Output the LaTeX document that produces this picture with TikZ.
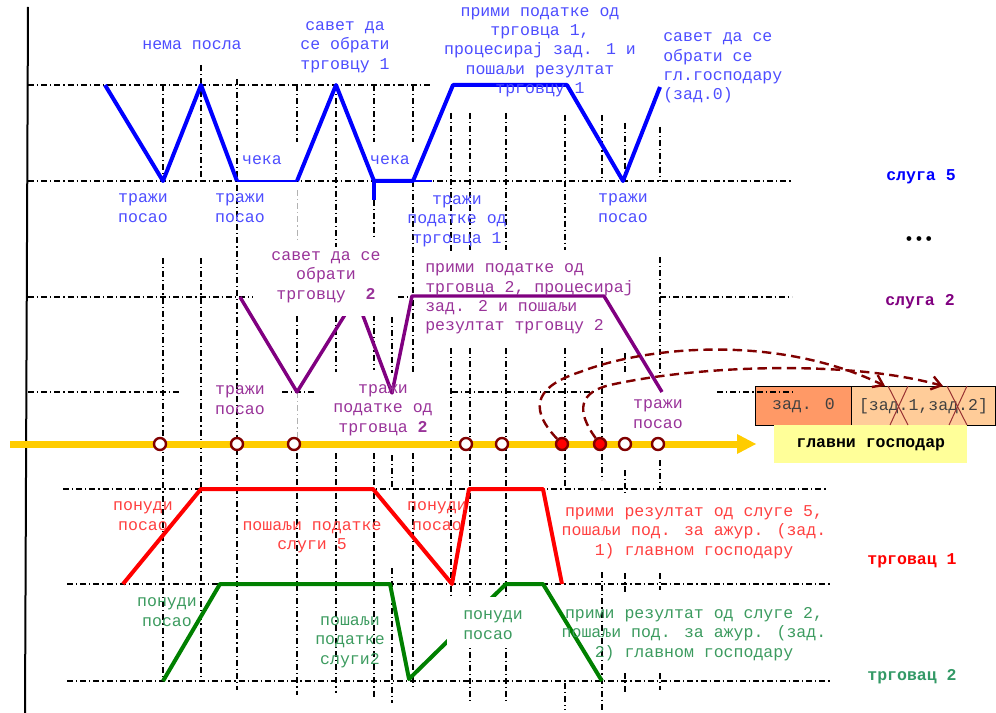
\documentclass[tikz,border=0pt]{standalone}
\usepackage{fontspec}
\newfontfamily\mono{Liberation Mono}
\newcommand\monof{\mono\fontsize{12.4}{14.5}\selectfont}
\usetikzlibrary{arrows.meta}
\definecolor{bline}{RGB}{0,0,255}
\definecolor{btxt}{RGB}{77,77,255}
\definecolor{pline}{RGB}{128,0,128}
\definecolor{ptxt}{RGB}{153,51,153}
\definecolor{rline}{RGB}{255,0,0}
\definecolor{rtxt}{RGB}{255,64,64}
\definecolor{gline}{RGB}{0,128,0}
\definecolor{gtxt}{RGB}{60,155,95}
\definecolor{glab}{RGB}{51,153,102}
\definecolor{dred}{RGB}{128,0,0}
\definecolor{gold}{RGB}{255,204,0}
\definecolor{zadzero}{RGB}{255,153,102}
\definecolor{zadrest}{RGB}{255,204,153}
\definecolor{master}{RGB}{255,255,153}
\definecolor{xred}{RGB}{153,51,51}
\definecolor{boxtxt}{RGB}{64,64,64}
\begin{document}
\begin{tikzpicture}[x=0.75pt,y=-0.75pt,
  txt/.style={font=\monof, align=center, inner sep=0pt},
  txtl/.style={font=\monof, align=left, inner sep=0pt, anchor=west},
  lab/.style={font=\monof\bfseries, inner sep=0pt},
  grid/.style={black, line width=0.9pt, dash pattern=on 4.5pt off 2.2pt on 1pt off 2.2pt},
  gridg/.style={black!30, line width=0.75pt, dash pattern=on 4.5pt off 2.2pt on 1pt off 2.2pt},
  sfive/.style={bline, line width=3pt, line join=round},
  sfivethin/.style={bline, line width=1.1pt},
  stwo/.style={pline, line width=2.6pt, line join=round},
  tone/.style={rline, line width=3pt, line join=round},
  ttwo/.style={gline, line width=3pt, line join=round},
  ev/.style={circle, draw=dred, line width=1.8pt, fill=white, minimum size=9pt, inner sep=0pt},
  evf/.style={ev, fill=red},
  flow/.style={dred, line width=1.8pt, dash pattern=on 7pt off 4pt, -{Straight Barb[length=7pt,width=10pt]}},
  cellbox/.style={draw=black, line width=0.75pt, minimum height=29.25pt, anchor=north west, inner sep=0pt, font=\monof, text=boxtxt}
]
\useasboundingbox (0,0) rectangle (996,713);

% queue boxes
\node[cellbox, fill=zadzero, minimum width=72pt] (z0) at (755,386) {зад. 0};
\node[cellbox, fill=zadrest, minimum width=108pt] (z12) at (851,386) {[зад.1,зад.2]};
\node[fill=master, minimum width=144.75pt, minimum height=28.5pt, anchor=north west, inner sep=0pt, font=\monof\bfseries] (gm) at (774,425) {главни господар};
\draw[xred, line width=0.75pt] (888,386) -- (908,425) (908,386) -- (890,425);
\draw[xred, line width=0.75pt] (947,386) -- (967,425) (967,386) -- (949,425);

% axis
\draw[line width=1.5pt] (28,7) -- (25,713);

% horizontal grid
\draw[grid] (28,85) -- (430,85);
\draw[grid] (28,181) -- (792,181);
\draw[grid] (28,297) -- (253,297) (398,297) -- (412,297) (660,297) -- (792,297);
\draw[grid] (28,392) -- (182,392) (282,392) -- (315,392) (452,392) -- (593,392) (717,392) -- (792,392);
\draw[grid] (63,489) -- (827,489);
\draw[grid] (67,584) -- (830,584);
\draw[grid] (67,681) -- (830,681);

% vertical grid
\draw[grid] (163,85) -- (163,181) (163,258) -- (163,680);
\draw[grid] (201,65) -- (201,177) (201,258) -- (201,677);
\draw[grid] (237,79) -- (237,690);
\draw[grid] (297,85) -- (297,142) (297,316) -- (297,372) (297,453) -- (297,695);
\draw[gridg] (297,190) -- (297,240) (297,392) -- (297,440);
\draw[grid] (336,85) -- (336,250) (336,316) -- (336,372) (336,453) -- (336,693);
\draw[grid] (374,85) -- (374,142) (374,187) -- (374,238) (374,315) -- (374,370) (374,453) -- (374,697);
\draw[grid] (392,317) -- (392,373) (392,455) -- (392,487) (392,568) -- (392,703);
\draw[grid] (413,85) -- (413,142) (413,181) -- (413,372) (413,453) -- (413,687);
\draw[grid] (451,113) -- (451,253) (451,348) -- (451,600);
\draw[grid] (470,113) -- (470,250) (470,348) -- (470,703);
\draw[grid] (506,113) -- (506,250) (506,348) -- (506,703);
\draw[grid] (565,115) -- (565,250) (565,348) -- (565,487) (565,683) -- (565,710);
\draw[grid] (602,115) -- (602,181) (602,348) -- (602,480) (602,572) -- (602,710);
\draw[grid] (625,123) -- (625,181) (625,353) -- (625,373) (625,470) -- (625,495) (625,573) -- (625,593) (625,673) -- (625,692);
\draw[grid] (660,127) -- (660,181) (660,257) -- (660,373) (660,460) -- (660,490) (660,573) -- (660,590) (660,673) -- (660,690);

% слуга 5
\draw[sfive] (105,85) -- (163,181) -- (201,85) -- (237,181);
\draw[sfivethin] (237,181) -- (297,181);
\draw[sfive] (297,181) -- (336,85) -- (374,181) -- (413,181) -- (453,85) -- (567,85) -- (623,181) -- (660,87);
\draw[sfive] (374,181) -- (374,200);
\draw[sfivethin] (413,181) -- (432,181);

% слуга 2
\draw[stwo] (240,297) -- (297,392) -- (356,297) -- (392,393) -- (412,296) -- (604,296) -- (662,392);

% трговац 1
\draw[tone] (123,584) -- (201,489) -- (373,489) -- (452,584) -- (469,489) -- (543,489) -- (562,584);

% трговац 2
\draw[ttwo] (163,681) -- (220,584) -- (390,584) -- (409,679) -- (506,584) -- (543,584) -- (602,681);

% white label backgrounds
\fill[white] (258,247) rectangle (398,316);
\fill[white] (447,597) rectangle (537,648);

% blue labels
\node[txt, btxt] (n1) at (192,45) {нема посла};
\node[txt, btxt] (n2) at (345,47) {савет да\\се обрати\\трговцу 1};
\node[txt, btxt] (n3) at (540,52) {прими податке од\\трговца 1,\\процесирај зад. 1 и\\пошаљи резултат\\трговцу 1};
\node[txtl, btxt] (n4) at (663,68) {савет да се\\обрати се\\гл.господару\\(зад.0)};
\node[txt, btxt] (n5) at (262,160) {чека};
\node[txt, btxt] (n6) at (390,160) {чека};
\node[txt, btxt] (n7) at (143,208) {тражи\\посао};
\node[txt, btxt] (n8) at (240,208) {тражи\\посао};
\node[txt, btxt] (n9) at (623,208) {тражи\\посао};
\node[txt, btxt] (n10) at (457,221) {тражи\\податке од\\трговца 1};

% purple labels
\node[txt, ptxt] (p1) at (326,277) {савет да се\\обрати\\трговцу~ {\bfseries 2}};
\node[txtl, ptxt] (p2) at (425,299) {прими податке од\\трговца 2, процесирај\\зад. 2 и пошаљи\\резултат трговцу 2};
\node[txt, ptxt] (p3) at (240,400) {тражи\\посао};
\node[txt, ptxt] (p4) at (383,410) {тражи\\податке од\\трговца {\bfseries 2}};
\node[txt, ptxt] (p5) at (658,414) {тражи\\посао};

% red labels
\node[txt, rtxt] (r1) at (143,516) {понуди\\посао};
\node[txt, rtxt] (r2) at (312,537) {пошаљи податке\\слуги 5};
\node[txt, rtxt] (r3) at (437,516) {понуди\\посао};
\node[txt, rtxt] (r4) at (694,532) {прими резултат од слуге 5,\\пошаљи под. за ажур. (зад.\\1) главном господару};

% green labels
\node[txt, gtxt] (g1) at (167,612) {понуди\\посао};
\node[txt, gtxt] (g2) at (350,642) {пошаљи\\податке\\слуги2};
\node[txtl, gtxt] (g3) at (463,625) {понуди\\посао};
\node[txt, gtxt] (g4) at (694,634) {прими резултат од слуге 2,\\пошаљи под. за ажур. (зад.\\2) главном господару};

% right labels
\node[lab, bline] (s5) at (921,177) {слуга 5};
\node[lab] (dots) at (919,241) {•••};
\node[lab, pline] (s2) at (920,302) {слуга 2};
\node[lab, rline] (tr1) at (912,561) {трговац 1};
\node[lab, glab] (tr2) at (912,677) {трговац 2};

% time axis
\coordinate (ta) at (10,444);
\coordinate (tb) at (738,444);
\draw[gold, line width=5.25pt] (ta) -- (tb);
\fill[gold] (737,434) -- (756,444) -- (737,454) -- cycle;

% events
\node[ev] (e1) at (160,444) {};
\node[ev] (e2) at (237,444) {};
\node[ev] (e3) at (294,444) {};
\node[ev] (e4) at (466,444) {};
\node[ev] (e5) at (502,444) {};
\node[evf] (e6) at (562,444) {};
\node[evf] (e7) at (600,444) {};
\node[ev] (e8) at (625,444) {};
\node[ev] (e9) at (658,444) {};

% update flows
\coordinate (q1) at (885,386);
\coordinate (q2) at (943,386);
\draw[flow] (e6) .. controls (525,405) and (540,385) .. (580,372) .. controls (650,345) and (780,335) .. (q1);
\draw[flow] (e7) .. controls (575,410) and (580,392) .. (610,385) .. controls (700,365) and (850,360) .. (q2);
\end{tikzpicture}
\end{document}
